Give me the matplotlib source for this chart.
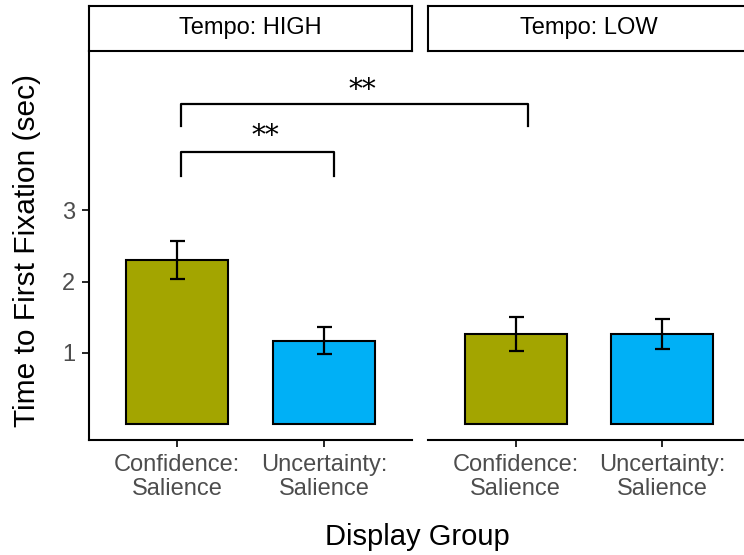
import numpy as np
import matplotlib
matplotlib.use("Agg")
import matplotlib.pyplot as plt

plt.rcParams['font.family'] = ['Liberation Sans', 'DejaVu Sans']

# means and error bar limits per tempo facet
groups = ["Confidence:\nSalience", "Uncertainty:\nSalience"]
facets = ["Tempo: HIGH", "Tempo: LOW"]
means = {"Tempo: HIGH": [2.30, 1.17], "Tempo: LOW": [1.26, 1.26]}
err_lo = {"Tempo: HIGH": [2.03, 0.99], "Tempo: LOW": [1.03, 1.06]}
err_hi = {"Tempo: HIGH": [2.57, 1.37], "Tempo: LOW": [1.50, 1.48]}
colors = ["#A3A500", "#00B0F6"]

# significance brackets (panel 1 x coords): x0, x1, top, tip, label y, label
brackets = [(1.03, 2.07, 3.81, 3.48, 4.03, "**"), (1.03, 3.39, 4.48, 4.17, 4.68, "**")]

W, H = 744, 555
fig = plt.figure(figsize=(W / 100, H / 100), dpi=100)

panel_x = [(89, 412), (428, 750)]
top, bottom = 50.7, 440
strip_top = 6

axes = []
for i, (facet, (x0, x1)) in enumerate(zip(facets, panel_x)):
    ax = fig.add_axes([x0 / W, (H - bottom) / H, (x1 - x0) / W, (bottom - top) / H])
    ax.patch.set_visible(False)
    x = np.arange(1, len(groups) + 1)
    m = np.array(means[facet])
    lo = m - np.array(err_lo[facet])
    hi = np.array(err_hi[facet]) - m
    ax.bar(x, m, width=0.7, color=colors, edgecolor="black", linewidth=1.5, zorder=2)
    ax.errorbar(x, m, yerr=[lo, hi], fmt="none", ecolor="black",
                elinewidth=1.6, capsize=5.4, capthick=1.6, zorder=3)
    ax.set_xlim(0.4, 2.6)
    ax.set_ylim(-0.218, 5.23)
    ax.set_xticks(x)
    ax.set_xticklabels(groups, fontsize=17, color="#4D4D4D", linespacing=1.15)
    ax.tick_params(axis="x", length=5, width=1.2, pad=5)
    for s in ["top", "right"]:
        ax.spines[s].set_visible(False)
    ax.spines["bottom"].set_linewidth(1.5)
    if i == 0:
        ax.set_yticks([1, 2, 3])
        ax.tick_params(axis="y", length=5, width=1.2, labelsize=17, labelcolor="#4D4D4D", pad=5)
        ax.spines["left"].set_linewidth(1.5)
        ax.set_zorder(5)
    else:
        ax.spines["left"].set_visible(False)
        ax.set_yticks([])

    # facet strip
    sx = fig.add_axes([x0 / W, (H - top) / H, (x1 - x0) / W, (top - strip_top) / H])
    sx.set_xticks([])
    sx.set_yticks([])
    for s in sx.spines.values():
        s.set_linewidth(1.5)
    sx.text(0.5, 0.5, facet, ha="center", va="center", fontsize=17, transform=sx.transAxes)
    axes.append(ax)

ax0 = axes[0]
for bx0, bx1, by, tip, ly, lab in brackets:
    ax0.plot([bx0, bx0, bx1, bx1], [tip, by, by, tip], color="black", lw=1.6,
             clip_on=False, zorder=4)
    ax0.text((bx0 + bx1) / 2 + 0.05, ly, lab, ha="center", va="center",
             fontsize=20, family="DejaVu Serif", clip_on=False)

fig.text(417 / W, 1 - 537 / H, "Display Group", ha="center", va="center", fontsize=21)
fig.text(27 / W, 1 - 250 / H, "Time to First Fixation (sec)", ha="center", va="center",
         rotation=90, fontsize=21.5)

fig.savefig("out.png", dpi=100)
